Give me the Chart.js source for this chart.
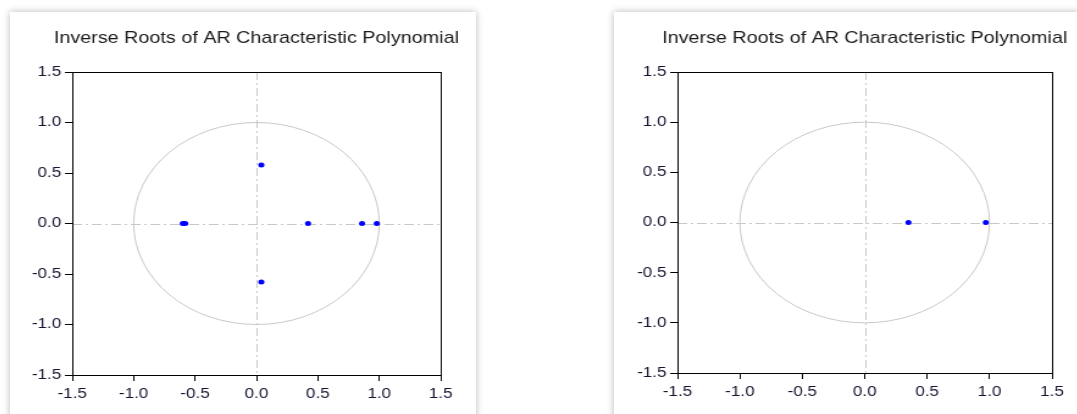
<!DOCTYPE html>
<html>
<head>
<meta charset="utf-8">
<script src="https://cdn.jsdelivr.net/npm/chart.js@4.4.0/dist/chart.umd.min.js"></script>
<style>
body { margin: 0; background: #fff; width: 1077px; height: 414px; overflow: hidden; position: relative; }
.card { position: absolute; top: 12px; width: 466px; height: 420px; background: #fff; box-shadow: 0 0 7px rgba(0,0,0,0.28); }
.card canvas { display: block; transform: scaleX(1.22); transform-origin: 0 0; }
</style>
</head>
<body>
<div class="card" style="left:10px"><canvas id="leftChart" width="382" height="402"></canvas></div>
<div class="card" style="left:614px"><canvas id="rightChart" width="382" height="402"></canvas></div>
<script>
// inverse roots
const leftRe = [0.04, 0.04, -0.60, -0.58, 0.42, 0.86, 0.98];
const leftIm = [0.58, -0.58, 0, 0, 0, 0, 0];
const rightRe = [0.35, 0.97];
const rightIm = [0, 0];
const tickValues = [-1.5, -1.0, -0.5, 0.0, 0.5, 1.0, 1.5];
const tickLabels = ['-1.5', '-1.0', '-0.5', '0.0', '0.5', '1.0', '1.5'];
const chartTitle = 'Inverse Roots of AR Characteristic Polynomial';

// unit circle, dash-dot zero lines, frame and title centred over the plot
const unitCircle = {
    id: 'unitCircle',
    beforeDatasetsDraw(chart) {
        const { ctx, chartArea: a, scales: { x, y } } = chart;
        const cx = x.getPixelForValue(0), cy = y.getPixelForValue(0);
        const rx = x.getPixelForValue(1) - cx, ry = cy - y.getPixelForValue(1);
        ctx.save();
        ctx.strokeStyle = '#c8c8c8';
        ctx.lineWidth = 1;
        ctx.beginPath();
        ctx.ellipse(cx, cy, rx, ry, 0, 0, Math.PI * 2);
        ctx.stroke();
        ctx.setLineDash([8, 3, 2, 3]);
        ctx.beginPath();
        ctx.moveTo(a.left, Math.round(cy) + 0.5);
        ctx.lineTo(a.right, Math.round(cy) + 0.5);
        ctx.moveTo(Math.round(cx) + 0.5, a.top);
        ctx.lineTo(Math.round(cx) + 0.5, a.bottom);
        ctx.stroke();
        ctx.setLineDash([]);
        ctx.strokeStyle = '#000';
        ctx.strokeRect(Math.round(a.left) + 0.5, Math.round(a.top) + 0.5,
            Math.round(a.right - a.left), Math.round(a.bottom - a.top));
        ctx.fillStyle = '#1a1a1a';
        ctx.font = '16.2px "Liberation Sans"';
        ctx.textAlign = 'center';
        ctx.textBaseline = 'middle';
        ctx.fillText(chartTitle, (a.left + a.right) / 2, 27);
        ctx.restore();
    }
};

function axis(pos, fit, pad) {
    return {
        type: 'linear',
        position: pos,
        min: -1.5,
        max: 1.5,
        afterBuildTicks: (s) => { s.ticks = tickValues.map(v => ({ value: v })); },
        afterFit: fit,
        border: { display: false },
        grid: { drawOnChartArea: false, drawTicks: true, tickLength: 6, tickColor: '#000', color: '#000' },
        ticks: {
            padding: pad,
            color: '#151530',
            font: { family: 'Liberation Sans', size: 14 },
            callback: (v) => tickLabels[tickValues.indexOf(v)]
        }
    };
}

function makeChart(id, re, im, pad) {
    const ctx = document.getElementById(id).getContext('2d');
    return new Chart(ctx, {
        type: 'scatter',
        data: {
            datasets: [{
                data: re.map((v, i) => ({ x: v, y: im[i] })),
                backgroundColor: '#0000ff',
                borderColor: '#0000ff',
                pointRadius: 2.5,
                borderWidth: 0
            }]
        },
        options: {
            responsive: false,
            animation: false,
            layout: { padding: pad },
            plugins: {
                legend: { display: false },
                tooltip: { enabled: false },
                title: { display: false }
            },
            scales: {
                x: axis('bottom', (s) => { s.height = 30; }, 5),
                y: axis('left', (s) => { s.width = 40; }, 3)
            }
        },
        plugins: [unitCircle]
    });
}

makeChart('leftChart', leftRe, leftIm, { left: 11, right: 29, top: 60, bottom: 9 });
makeChart('rightChart', rightRe, rightIm, { left: 12, right: 23, top: 60, bottom: 11 });
</script>
</body>
</html>
